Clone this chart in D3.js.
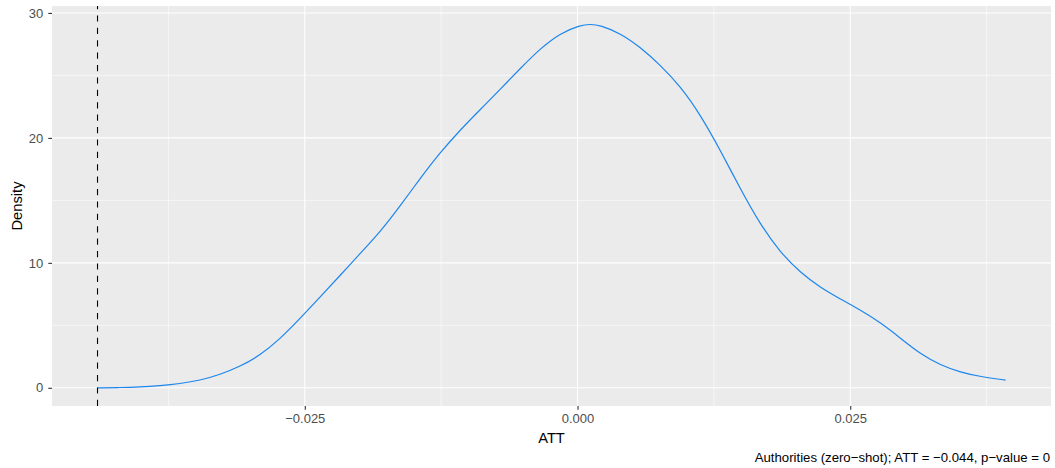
<!DOCTYPE html>
<html>
<head>
<meta charset="utf-8">
<script src="https://cdn.jsdelivr.net/npm/d3@7"></script>
<style>
  html, body { margin: 0; padding: 0; background: #fff; }
  svg { display: block; }
  text { font-family: "Liberation Sans", Arial, Helvetica, sans-serif; }
</style>
</head>
<body>
<svg id="chart" width="1055" height="468"></svg>
<script>
// ---- data ----
const attX = [-0.04401, -0.04195, -0.04012, -0.03828, -0.03645, -0.03461, -0.03278, -0.03094, -0.02911, -0.02728,
  -0.02544, -0.02361, -0.02177, -0.01994, -0.01810, -0.01627, -0.01444, -0.01260, -0.01077, -0.00893,
  -0.00710, -0.00526, -0.00343, -0.00159, 0.00024, 0.00116, 0.00208, 0.00392, 0.00575, 0.00759,
  0.00942, 0.01126, 0.01309, 0.01493, 0.01676, 0.01860, 0.02043, 0.02226, 0.02410, 0.02593,
  0.02777, 0.02960, 0.03144, 0.03327, 0.03511, 0.03694, 0.03924];
const densityY = [0.00, 0.02, 0.07, 0.17, 0.33, 0.59, 1.05, 1.70, 2.59, 3.90,
  5.54, 7.26, 8.98, 10.74, 12.46, 14.54, 16.74, 18.82, 20.62, 22.25,
  23.88, 25.54, 27.14, 28.38, 29.02, 29.10, 29.02, 28.38, 27.26, 25.82,
  24.14, 21.86, 19.02, 15.90, 13.06, 10.82, 9.22, 8.02, 7.10, 6.22,
  5.22, 3.98, 2.70, 1.82, 1.24, 0.89, 0.62];
const observedATT = -0.044;
const xTicks = [-0.025, 0, 0.025];
const xTickLabels = ["\u22120.025", "0.000", "0.025"];
const xMinorTicks = [-0.0375, -0.0125, 0.0125, 0.0375];
const yTicks = [0, 10, 20, 30];
const yTickLabels = ["0", "10", "20", "30"];
const yMinorTicks = [5, 15, 25];
const xTitle = "ATT";
const yTitle = "Density";
const caption = "Authorities (zero\u2212shot); ATT = \u22120.044, p\u2212value = 0";

// ---- layout ----
const panel = { left: 52, top: 6, right: 1051, bottom: 406 };
const svg = d3.select("#chart");

// ggplot-style 5% expansion
const xLo = Math.min(d3.min(attX), observedATT), xHi = Math.max(d3.max(attX), observedATT);
const xPad = (xHi - xLo) * 0.05;
const yLo = Math.min(0, d3.min(densityY)), yHi = d3.max(densityY);
const yPad = (yHi - yLo) * 0.05;

const x = d3.scaleLinear().domain([xLo - xPad, xHi + xPad]).range([panel.left, panel.right]);
const y = d3.scaleLinear().domain([yLo - yPad, yHi + yPad]).range([panel.bottom, panel.top]);

// panel background
svg.append("rect")
  .attr("x", panel.left).attr("y", panel.top)
  .attr("width", panel.right - panel.left).attr("height", panel.bottom - panel.top)
  .attr("fill", "#EBEBEB");

const grid = svg.append("g");
grid.selectAll("line.xminor").data(xMinorTicks).enter().append("line")
  .attr("x1", d => x(d)).attr("x2", d => x(d))
  .attr("y1", panel.top).attr("y2", panel.bottom)
  .attr("stroke", "#fff").attr("stroke-width", 0.55);
grid.selectAll("line.yminor").data(yMinorTicks).enter().append("line")
  .attr("y1", d => y(d)).attr("y2", d => y(d))
  .attr("x1", panel.left).attr("x2", panel.right)
  .attr("stroke", "#fff").attr("stroke-width", 0.55);
grid.selectAll("line.xmajor").data(xTicks).enter().append("line")
  .attr("x1", d => x(d)).attr("x2", d => x(d))
  .attr("y1", panel.top).attr("y2", panel.bottom)
  .attr("stroke", "#fff").attr("stroke-width", 1.1);
grid.selectAll("line.ymajor").data(yTicks).enter().append("line")
  .attr("y1", d => y(d)).attr("y2", d => y(d))
  .attr("x1", panel.left).attr("x2", panel.right)
  .attr("stroke", "#fff").attr("stroke-width", 1.1);

// density curve
const pts = attX.map((v, i) => [v, densityY[i]]);
svg.append("path")
  .datum(pts)
  .attr("fill", "none")
  .attr("stroke", "#1C86EE")
  .attr("stroke-width", 1.2)
  .attr("d", d3.line().x(d => x(d[0])).y(d => y(d[1])).curve(d3.curveBasis));

// observed ATT vline (drawn bottom to top)
svg.append("line")
  .attr("x1", x(observedATT)).attr("x2", x(observedATT))
  .attr("y1", panel.bottom).attr("y2", panel.top)
  .attr("stroke", "#000").attr("stroke-width", 1.1)
  .attr("stroke-dasharray", "6.2,6.2");

// axes
const xAxis = d3.axisBottom(x).tickValues(xTicks)
  .tickFormat((d, i) => xTickLabels[i]).tickSize(3.7).tickPadding(3);
const gx = svg.append("g").attr("transform", `translate(0,${panel.bottom})`).call(xAxis);
gx.select(".domain").remove();
gx.selectAll(".tick line").attr("stroke", "#333").attr("stroke-width", 1.1);
gx.selectAll(".tick text").attr("fill", "#4D4D4D").attr("font-size", "13px")
  .attr("font-family", "'Liberation Sans', Arial, sans-serif")
  .attr("y", 17.3).attr("dy", null);

const yAxis = d3.axisLeft(y).tickValues(yTicks)
  .tickFormat((d, i) => yTickLabels[i]).tickSize(3.7).tickPadding(5);
const gy = svg.append("g").attr("transform", `translate(${panel.left},0)`).call(yAxis);
gy.select(".domain").remove();
gy.selectAll(".tick line").attr("stroke", "#333").attr("stroke-width", 1.1);
gy.selectAll(".tick text").attr("fill", "#4D4D4D").attr("font-size", "13px")
  .attr("font-family", "'Liberation Sans', Arial, sans-serif");

// titles
svg.append("text")
  .attr("x", (panel.left + panel.right) / 2).attr("y", 443)
  .attr("text-anchor", "middle").attr("font-size", "14.7px").attr("fill", "#000")
  .text(xTitle);
svg.append("text")
  .attr("transform", `translate(22,${(panel.top + panel.bottom) / 2}) rotate(-90)`)
  .attr("text-anchor", "middle").attr("font-size", "14.7px").attr("fill", "#000")
  .text(yTitle);
svg.append("text")
  .attr("x", 1050).attr("y", 462)
  .attr("text-anchor", "end").attr("font-size", "13.2px").attr("fill", "#000")
  .text(caption);
</script>
</body>
</html>
